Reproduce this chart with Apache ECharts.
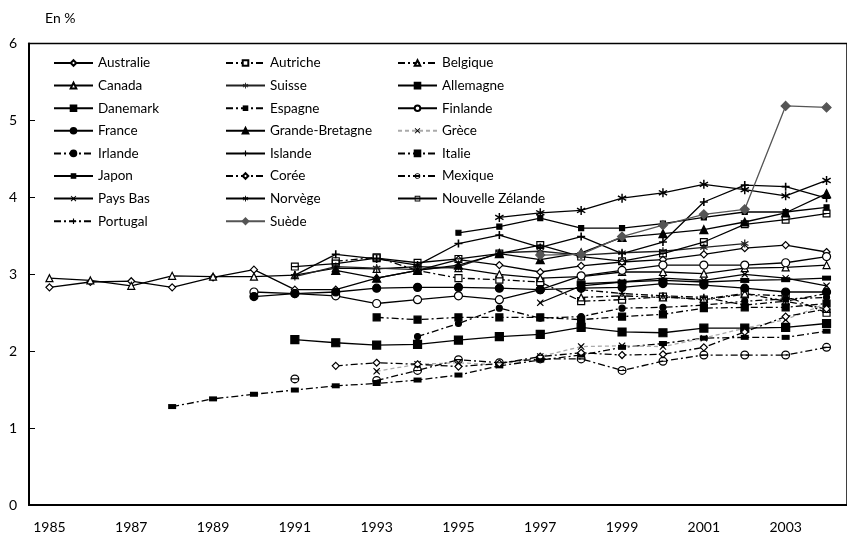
<!DOCTYPE html>
<html><head><meta charset="utf-8">
<script src="https://cdn.jsdelivr.net/npm/echarts@6/dist/echarts.min.js"></script>
<style>html,body{margin:0;padding:0;background:#fff}#c{width:847px;height:541px}</style>
</head><body><div id="c"></div>
<script>
var years = ['1985','1986','1987','1988','1989','1990','1991','1992','1993','1994','1995','1996','1997','1998','1999','2000','2001','2002','2003','2004'];
var yTicks = [0,1,2,3,4,5,6];
var _ = null;
var australie = [2.83,2.90,2.91,2.83,2.96,3.06,2.80,2.80,2.95,3.05,3.19,3.12,3.03,3.11,3.16,3.19,3.26,3.34,3.38,3.29];
var autriche  = [_,_,_,_,_,_,_,3.17,3.22,3.05,2.95,2.93,2.90,2.65,2.67,2.71,2.67,2.74,2.72,2.50];
var belgique  = [_,_,_,_,_,_,_,_,_,_,_,_,_,2.70,2.72,2.70,2.68,2.75,2.65,2.55];
var canada    = [2.95,2.92,2.85,2.98,2.97,2.97,2.99,3.08,3.07,3.10,3.08,3.00,2.95,2.97,3.03,3.03,3.01,3.08,3.09,3.12];
var suisse    = [_,_,_,_,_,_,2.97,3.10,3.08,3.06,3.10,3.28,3.30,3.25,3.28,3.30,3.35,3.40,_,_];
var allemagne = [_,_,_,_,_,_,2.15,2.11,2.08,2.09,2.145,2.19,2.22,2.31,2.25,2.24,2.30,2.30,2.31,2.36];
var danemark  = [_,_,_,_,_,_,_,_,_,_,3.54,3.62,3.73,3.60,3.60,3.66,3.74,3.81,3.81,3.87];
var espagne   = [_,_,_,1.28,1.38,1.44,1.495,1.55,1.58,1.625,1.69,1.81,1.885,1.95,2.05,2.10,2.17,2.18,2.18,2.26];
var finlande  = [_,_,_,_,_,2.77,2.75,2.72,2.62,2.67,2.72,2.67,2.80,2.98,3.05,3.12,3.12,3.12,3.15,3.23];
var france    = [_,_,_,_,_,2.71,2.75,2.77,2.82,2.83,2.83,2.82,2.80,2.82,2.83,2.88,2.86,2.82,2.77,2.77];
var gb        = [_,_,_,_,_,_,_,3.05,2.95,3.05,3.12,3.27,3.19,3.28,3.48,3.53,3.58,3.68,3.80,4.05];
var grece     = [_,_,_,_,_,_,_,_,1.74,1.83,1.85,1.82,1.93,2.06,2.07,2.06,2.17,2.30,2.41,2.62];
var irlande   = [_,_,_,_,_,_,_,_,_,2.19,2.36,2.56,2.43,2.45,2.56,2.57,2.60,2.65,2.68,2.70];
var islande   = [_,_,_,_,_,_,2.99,3.26,3.20,3.12,3.40,3.51,3.35,3.49,3.27,3.42,3.94,4.16,4.14,3.99];
var italie    = [_,_,_,_,_,_,_,_,2.44,2.41,2.44,2.44,2.44,2.41,2.45,2.48,2.56,2.57,2.57,2.62];
var japon     = [_,_,_,_,_,_,_,_,_,_,_,_,_,2.88,2.90,2.92,2.90,2.92,2.93,2.95];
var coree     = [_,_,_,_,_,_,_,1.81,1.85,1.83,1.80,1.84,1.93,1.98,1.95,1.96,2.05,2.25,2.45,2.55];
var mexique   = [_,_,_,_,_,_,1.64,_,1.62,1.75,1.89,1.85,1.90,1.90,1.75,1.87,1.95,1.95,1.95,2.05];
var paysbas   = [_,_,_,_,_,_,_,_,_,_,_,_,2.63,2.85,2.90,2.95,2.92,3.00,2.95,2.85];
var norvege   = [_,_,_,_,_,_,_,_,_,_,_,3.74,3.80,3.83,3.99,4.06,4.17,4.10,4.02,4.22];
var nz        = [_,_,_,_,_,_,3.10,3.14,3.21,3.15,3.20,3.27,3.38,3.23,3.17,3.27,3.42,3.65,3.71,3.79];
var portugal  = [_,_,_,_,_,_,_,_,_,_,_,_,_,2.80,2.75,2.72,2.70,2.60,2.65,2.75];
var suede     = [_,_,_,_,_,_,_,_,_,_,_,_,3.25,3.26,3.49,3.64,3.78,3.845,5.19,5.17];

var DASHDOT = [7,3,2,3];
function S(name, data, o){
  var lc = o.lineColor || o.color || '#000';
  var mc = o.color || '#000';
  return {
    name: name, type:'line', data: data, connectNulls: o.connect !== false,
    symbol: o.symbol, symbolSize: o.size || 7, showSymbol: true,
    lineStyle:{color: lc, width: o.lw || 1.3, type: o.dash ? DASHDOT : (o.ltype || 'solid')},
    itemStyle:{color: o.fill || mc, borderColor: mc, borderWidth: o.bw === undefined ? 1.2 : o.bw},
    emphasis:{disabled:true}, animation:false, z: o.z || 2
  };
}
var PLUS = 'path://M4,0H6V4H10V6H6V10H4V6H0V4H4Z';
var CROSS = 'path://M1,0L5,3.6L9,0L10,1L6.4,5L10,9L9,10L5,6.4L1,10L0,9L3.6,5L0,1Z';
var STAR = 'path://M4.3,0H5.7V3.3L8.6,1.6L9.3,2.8L6.4,4.5L9.3,6.2L8.6,7.4L5.7,5.7V9H4.3V5.7L1.4,7.4L0.7,6.2L3.6,4.5L0.7,2.8L1.4,1.6L4.3,3.3Z';
var RECT = 'path://M0,0H10V5H0Z';
var SQLINE = 'path://M0,0H10V10H0ZM1.5,1.5V4.3H8.5V1.5ZM1.5,5.7V8.5H8.5V5.7Z';
var THETA = 'path://M5,0A5,5 0 1,1 4.99,0ZM5,1.4A3.6,3.6 0 1,0 5.01,1.4ZM1,4.4H9V5.6H1Z';

var series = [
  S('Australie', australie, {symbol:'diamond', size:7, fill:'#fff'}),
  S('Autriche', autriche, {symbol:'rect', size:7, fill:'#fff', dash:true}),
  S('Belgique', belgique, {symbol:'triangle', size:7, fill:'#fff', dash:true}),
  S('Canada', canada, {symbol:'triangle', size:7, fill:'#fff'}),
  S('Suisse', suisse, {symbol:STAR, size:8, color:'#222', bw:0}),
  S('Allemagne', allemagne, {symbol:'rect', size:8}),
  S('Danemark', danemark, {symbol:'rect', size:5}),
  S('Espagne', espagne, {symbol:RECT, size:[8,5], dash:true, bw:0}),
  S('Finlande', finlande, {symbol:'circle', size:8, fill:'#fff'}),
  S('France', france, {symbol:'circle', size:8}),
  S('Grande-Bretagne', gb, {symbol:'triangle', size:8}),
  S('Grèce', grece, {symbol:CROSS, size:7, lineColor:'#aaa', ltype:[4,3], bw:0}),
  S('Irlande', irlande, {symbol:'circle', size:6, dash:true}),
  S('Islande', islande, {symbol:PLUS, size:8, bw:0}),
  S('Italie', italie, {symbol:'rect', size:7, dash:true}),
  S('Japon', japon, {symbol:RECT, size:[9,5], bw:0}),
  S('Corée', coree, {symbol:'diamond', size:7, fill:'#fff', dash:true}),
  S('Mexique', mexique, {symbol:THETA, size:9, dash:true, bw:0, connect:false}),
  S('Pays Bas', paysbas, {symbol:CROSS, size:7, bw:0}),
  S('Norvège', norvege, {symbol:STAR, size:9, bw:0}),
  S('Nouvelle Zélande', nz, {symbol:SQLINE, size:8, bw:0}),
  S('Portugal', portugal, {symbol:PLUS, size:7, dash:true, bw:0}),
  S('Suède', suede, {symbol:'diamond', size:9, color:'#555'})
];

var col1 = ['Australie','Canada','Danemark','France','Irlande','Japon','Pays Bas','Portugal'];
var col2 = ['Autriche','Suisse','Espagne','Grande-Bretagne','Islande','Corée','Norvège','Suède'];
var col3 = ['Belgique','Allemagne','Finlande','Grèce','Italie','Mexique','Nouvelle Zélande'];
function L(data, left){
  return {data: data, orient:'vertical', left:left, top:56, padding:0, itemWidth:39, itemHeight:7, itemGap:8.6,
    selectedMode:false, textStyle:{fontFamily:'Lato', fontSize:13.5, color:'#000'}};
}
var chart = echarts.init(document.getElementById('c'), null, {renderer:'canvas'});
chart.setOption({
  animation:false,
  backgroundColor:'#fff',
  textStyle:{fontFamily:'Lato'},
  title:{text:'En %', left:45, top:11, padding:0, textStyle:{fontFamily:'Lato', fontSize:14, fontWeight:'normal', color:'#000'}},
  grid:{left:29, top:43.6, width:827, height:461.4, show:true, borderColor:'#000', borderWidth:1.5, containLabel:false},
  legend:[L(col1,53), L(col2,225), L(col3,397)],
  xAxis:{type:'category', data:years, boundaryGap:true,
    axisLine:{lineStyle:{color:'#000', width:2}},
    axisTick:{inside:true, length:6, interval:1, lineStyle:{color:'#000', width:1}},
    axisLabel:{interval:1, margin:15, color:'#000', fontSize:14, fontFamily:'Lato'},
    splitLine:{show:false}},
  yAxis:{type:'value', min:0, max:6, interval:1,
    axisLine:{show:true, lineStyle:{color:'#000', width:2}},
    axisTick:{show:true, inside:true, length:6, lineStyle:{color:'#000'}},
    axisLabel:{margin:12, color:'#000', fontSize:14, fontFamily:'Lato'},
    splitLine:{show:false}},
  series: series
});
</script></body></html>
